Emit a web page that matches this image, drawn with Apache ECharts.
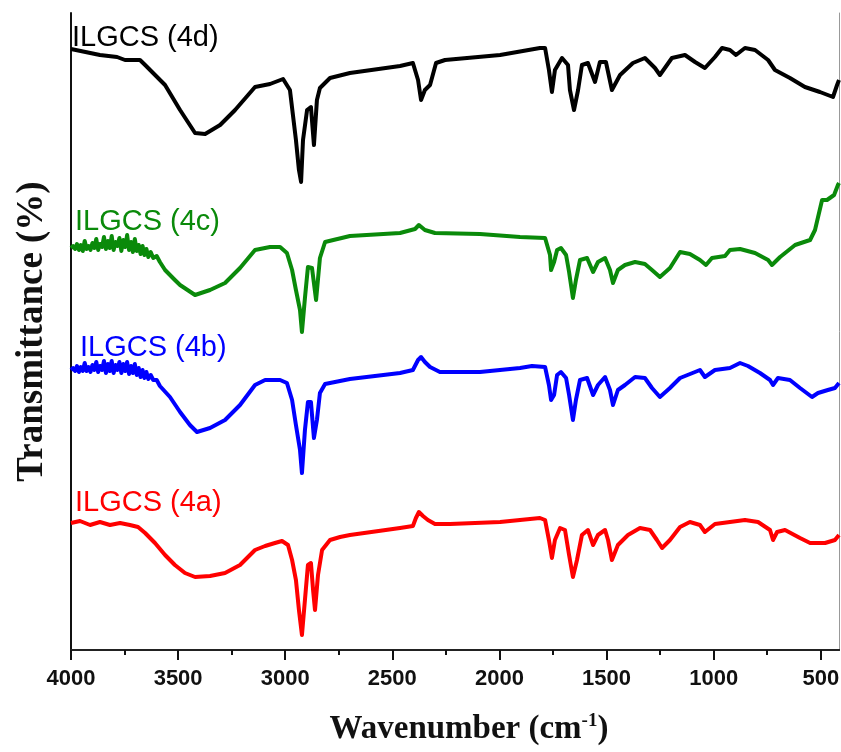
<!DOCTYPE html>
<html>
<head>
<meta charset="utf-8">
<script src="https://cdn.jsdelivr.net/npm/echarts@6/dist/echarts.min.js"></script>
<style>
  html, body { margin: 0; padding: 0; background: #fff; }
  #main { width: 841px; height: 752px; }
</style>
</head>
<body>
<div id="main"></div>
<script>
// wavenumber (cm-1) vs transmittance (arbitrary offset units)
var ticksMajor = [4000, 3500, 3000, 2500, 2000, 1500, 1000, 500];
var ticksMinor = [3750, 3250, 2750, 2250, 1750, 1250, 750];

var ilgcs4d = [
  [4000,601],[3865,595],[3785,593],[3748,590],[3678,590],[3654,585],[3561,565],[3491,540],
  [3421,517],[3374,516],[3304,525],[3234,540],[3141,563],[3071,566],[3010,571],[2978,560],
  [2964,535],[2950,510],[2936,480],[2926,468],[2917,510],[2898,540],[2880,543],[2866,505],
  [2852,550],[2838,562],[2791,572],[2698,577],[2464,584],[2404,587],[2380,570],[2366,550],
  [2348,560],[2324,565],[2296,587],[2254,590],[1997,595],[1811,602],[1787,602],[1769,580],
  [1755,558],[1741,580],[1708,592],[1680,585],[1671,560],[1652,540],[1633,560],[1615,585],
  [1587,587],[1554,568],[1531,588],[1503,588],[1475,560],[1437,575],[1377,587],[1321,592],
  [1274,582],[1251,575],[1195,592],[1134,595],[1087,588],[1041,582],[994,593],[961,602],
  [924,600],[896,595],[854,602],[807,600],[746,590],[714,580],[644,572],[574,563],
  [504,558],[443,553],[424,565],[415,570]
];

var ilgcs4c = [
  [4000,402],[3990,404],[3981,401],[3972,406],[3963,400],[3954,405],[3945,399],[3936,409],
  [3927,401],[3918,404],[3909,400],[3900,407],[3891,402],[3882,411],[3873,400],[3864,406],
  [3855,403],[3846,413],[3837,401],[3828,409],[3819,402],[3810,414],[3801,400],[3792,408],
  [3783,404],[3774,412],[3765,399],[3756,410],[3747,403],[3738,415],[3729,400],[3720,408],
  [3711,398],[3702,411],[3693,399],[3684,405],[3675,396],[3666,404],[3657,395],[3648,401],
  [3639,393],[3628,398],[3616,392],[3600,394],[3585,388],[3561,380],[3515,370],[3491,365],
  [3421,355],[3351,360],[3281,367],[3211,382],[3141,400],[3071,403],[3024,403],[2992,397],
  [2968,380],[2950,360],[2931,340],[2922,318],[2908,352],[2894,383],[2875,382],[2856,350],
  [2838,392],[2814,408],[2698,414],[2464,417],[2394,421],[2376,425],[2348,420],[2301,417],
  [2091,416],[1904,413],[1787,412],[1764,395],[1759,380],[1745,388],[1731,400],[1713,402],
  [1689,395],[1675,378],[1657,352],[1643,370],[1624,390],[1591,392],[1563,378],[1540,388],
  [1507,392],[1484,380],[1470,367],[1447,380],[1414,385],[1367,388],[1321,386],[1288,380],
  [1251,373],[1204,382],[1157,398],[1111,396],[1064,390],[1036,385],[1008,392],[947,394],
  [924,400],[877,401],[807,397],[746,390],[728,385],[690,393],[620,405],[550,410],
  [527,420],[494,450],[471,450],[438,455],[420,465],[415,467]
];

var ilgcs4b = [
  [4000,280],[3990,282],[3981,279],[3972,284],[3963,278],[3954,283],[3945,279],[3936,287],
  [3927,279],[3918,283],[3909,278],[3900,285],[3891,280],[3882,288],[3873,278],[3864,284],
  [3855,280],[3846,289],[3837,277],[3828,286],[3819,279],[3810,289],[3801,277],[3792,285],
  [3783,280],[3774,288],[3765,277],[3756,286],[3747,279],[3738,288],[3729,276],[3720,284],
  [3711,277],[3702,286],[3693,275],[3684,282],[3675,273],[3666,280],[3657,272],[3648,278],
  [3639,271],[3628,275],[3616,270],[3600,270],[3585,264],[3538,253],[3491,238],[3445,225],
  [3412,218],[3351,222],[3281,230],[3211,245],[3141,265],[3094,270],[3024,270],[2992,267],
  [2968,250],[2950,225],[2931,200],[2922,177],[2908,220],[2894,248],[2880,248],[2866,212],
  [2852,230],[2838,257],[2814,266],[2698,271],[2464,277],[2404,280],[2380,290],[2366,293],
  [2348,288],[2324,283],[2278,278],[2091,278],[1904,282],[1848,284],[1787,283],[1769,265],
  [1759,250],[1745,255],[1731,275],[1713,278],[1689,272],[1675,255],[1657,230],[1643,250],
  [1624,270],[1591,272],[1563,255],[1540,265],[1507,273],[1484,260],[1470,245],[1447,260],
  [1414,265],[1367,273],[1321,272],[1288,262],[1251,253],[1204,262],[1157,272],[1087,278],
  [1064,280],[1041,273],[994,280],[924,282],[877,287],[840,284],[784,277],[737,270],
  [723,265],[700,272],[644,270],[597,262],[541,253],[513,257],[467,260],[434,262],[415,267]
];

var ilgcs4a = [
  [4000,127],[3958,129],[3911,125],[3865,128],[3818,125],[3771,127],[3725,125],[3687,123],
  [3654,117],[3608,107],[3561,95],[3515,85],[3468,77],[3421,73],[3351,74],[3281,77],
  [3211,85],[3141,100],[3094,104],[3048,107],[3015,109],[2987,105],[2968,90],[2950,70],
  [2936,40],[2922,15],[2908,50],[2894,85],[2880,87],[2870,60],[2861,40],[2847,75],
  [2828,100],[2791,110],[2744,113],[2698,115],[2464,122],[2404,124],[2390,132],[2376,138],
  [2357,134],[2334,130],[2301,126],[2231,126],[1997,128],[1904,130],[1811,132],[1787,130],
  [1769,110],[1755,92],[1741,110],[1717,122],[1694,120],[1675,95],[1657,73],[1638,90],
  [1615,115],[1587,120],[1563,105],[1540,115],[1507,120],[1493,110],[1475,90],[1447,105],
  [1400,115],[1344,122],[1297,120],[1265,110],[1241,102],[1204,110],[1157,123],[1111,128],
  [1064,125],[1041,118],[994,126],[924,128],[854,130],[793,128],[737,120],[723,110],
  [704,118],[667,120],[597,112],[550,107],[480,107],[434,110],[415,115]
];

var seriesNames = ['ILGCS (4d)', 'ILGCS (4c)', 'ILGCS (4b)', 'ILGCS (4a)'];
var seriesColors = ['#000000', '#0a8a0a', '#0000ff', '#ff0000'];
var seriesData = [ilgcs4d, ilgcs4c, ilgcs4b, ilgcs4a];
// where each curve's label sits (pixels)
var labelPos = [[72, 38], [75, 222], [80, 348], [75, 503]];

var xMin = 415, xMax = 4000;

var myChart = echarts.init(document.getElementById('main'));

var series = seriesData.map(function (d, i) {
  return {
    name: seriesNames[i],
    type: 'line',
    xAxisIndex: 0,
    yAxisIndex: 0,
    data: d,
    showSymbol: false,
    lineStyle: { color: seriesColors[i], width: 4, join: 'round' },
    itemStyle: { color: seriesColors[i] }
  };
});

var labels = seriesNames.map(function (n, i) {
  return {
    type: 'text',
    x: labelPos[i][0],
    y: labelPos[i][1],
    z: 100,
    style: {
      text: n,
      fill: seriesColors[i],
      font: '29px "Liberation Sans", Arial, sans-serif',
      verticalAlign: 'middle'
    }
  };
});

myChart.setOption({
  animation: false,
  backgroundColor: '#fff',
  grid: { left: 71, right: 2, top: 13, bottom: 102, containLabel: false, outerBoundsMode: 'none' },
  xAxis: [
    {
      type: 'value', inverse: true, min: xMin, max: xMax, position: 'bottom',
      name: '{a|Wavenumber (cm}{s|-1}{a|)}',
      nameLocation: 'middle', nameGap: 62,
      nameTextStyle: {
        padding: [0, 0, 0, 28],
        rich: {
          a: { fontFamily: '"Liberation Serif", "Times New Roman", serif', fontWeight: 'bold', fontSize: 33, color: '#111' },
          s: { fontFamily: '"Liberation Serif", "Times New Roman", serif', fontWeight: 'bold', fontSize: 19, color: '#111', verticalAlign: 'top', padding: [0, 0, 16, 0] }
        }
      },
      axisLine: { show: true, onZero: false, lineStyle: { color: '#111', width: 2 } },
      axisTick: { show: true, inside: false, length: 10, customValues: ticksMajor, lineStyle: { color: '#111', width: 2 } },
      axisLabel: {
        customValues: ticksMajor, margin: 18, fontSize: 22, fontWeight: 'bold',
        fontFamily: '"Liberation Sans", Arial, sans-serif', color: '#111',
        formatter: function (v) { return String(v); }
      },
      splitLine: { show: false }
    },
    {
      type: 'value', inverse: true, min: xMin, max: xMax, position: 'bottom',
      axisLine: { show: false },
      axisTick: { show: true, length: 5, customValues: ticksMinor, lineStyle: { color: '#111', width: 2 } },
      axisLabel: { show: false },
      splitLine: { show: false }
    },
    {
      type: 'value', inverse: true, min: xMin, max: xMax, position: 'top',
      axisLine: { show: true, lineStyle: { color: '#222', width: 2 } },
      axisTick: { show: false }, axisLabel: { show: false }, splitLine: { show: false }
    }
  ],
  yAxis: [
    {
      type: 'value', min: 0, max: 637, position: 'left',
      name: 'Transmittance (%)',
      nameLocation: 'middle', nameGap: 20,
      nameTextStyle: {
        fontFamily: '"Liberation Serif", "Times New Roman", serif',
        fontWeight: 'bold', fontSize: 37, color: '#111'
      },
      axisLine: { show: true, onZero: false, lineStyle: { color: '#111', width: 2 } },
      axisTick: { show: false }, axisLabel: { show: false }, splitLine: { show: false }
    },
    {
      type: 'value', min: 0, max: 637, position: 'right',
      axisLine: { show: true, onZero: false, lineStyle: { color: '#999', width: 1 } },
      axisTick: { show: false }, axisLabel: { show: false }, splitLine: { show: false }
    }
  ],
  graphic: labels,
  series: series
});
</script>
</body>
</html>
